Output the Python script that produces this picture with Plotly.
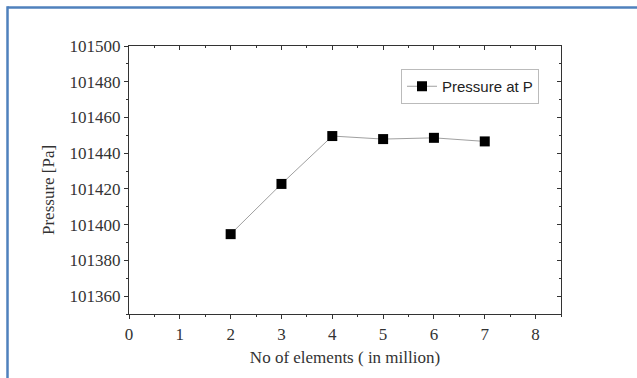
import plotly.graph_objects as go

elements = [2, 3, 4, 5, 6, 7]
pressure = [101394.7, 101422.8, 101449.6, 101447.9, 101448.6, 101446.6]
series_name = "Pressure at P"
x_ticks = [0, 1, 2, 3, 4, 5, 6, 7, 8]
y_ticks = [101360, 101380, 101400, 101420, 101440, 101460, 101480, 101500]
x_title = "No of elements ( in million)"
y_title = "Pressure [Pa]"

W, H = 637, 378
L, R, T, B = 129, 76, 46, 64
pw, ph = W - L - R, H - T - B

fig = go.Figure()
fig.add_trace(go.Scatter(
    x=elements, y=pressure, mode="lines+markers", name=series_name,
    line=dict(color="#a0a0a0", width=1),
    marker=dict(symbol="square", size=10, color="black", line=dict(width=0)),
))
# invisible trace to anchor mirror axes (top/right, inward ticks)
fig.add_trace(go.Scatter(x=[None], y=[None], xaxis="x2", yaxis="y2",
                         showlegend=False, hoverinfo="skip"))

serif = "Liberation Serif, Times New Roman, serif"
axis_common = dict(showgrid=False, zeroline=False, showline=True,
                   linecolor="#333", linewidth=1.2)

fig.update_layout(
    width=W, height=H,
    margin=dict(l=L, r=R, t=T, b=B),
    paper_bgcolor="white", plot_bgcolor="white",
    showlegend=True,
    legend=dict(x=(401 - L) / pw, y=1 - (69 - T) / ph, xanchor="left", yanchor="top",
                bgcolor="white", bordercolor="#bbbbbb", borderwidth=1,
                font=dict(family="Liberation Sans, Arial, sans-serif", size=15, color="#222"),
                itemwidth=30, tracegroupgap=0),
    xaxis=dict(range=[0, 8.5], tickmode="array", tickvals=x_ticks,
               ticks="outside", ticklen=4, tickwidth=1, tickcolor="#333",
               minor=dict(dtick=0.5, tick0=0, ticks="outside", ticklen=2, tickcolor="#333"),
               tickfont=dict(family=serif, size=17, color="#333"),
               title=dict(text=x_title, standoff=8,
                          font=dict(family=serif, size=17, color="#333")),
               **axis_common),
    yaxis=dict(range=[101350, 101500], tickmode="array", tickvals=y_ticks,
               tickformat="d",
               ticks="outside", ticklen=4, tickwidth=1, tickcolor="#333",
               minor=dict(dtick=10, tick0=101350, ticks="outside", ticklen=2, tickcolor="#333"),
               tickfont=dict(family=serif, size=17, color="#333"),
               **axis_common),
    xaxis2=dict(overlaying="x", side="top", matches="x", anchor="y2",
                tickmode="array", tickvals=x_ticks, showticklabels=False,
                ticks="inside", ticklen=4, tickcolor="#333",
                minor=dict(dtick=0.5, tick0=0, ticks="inside", ticklen=2, tickcolor="#333"),
                **axis_common),
    yaxis2=dict(overlaying="y", side="right", matches="y", anchor="x2",
                tickmode="array", tickvals=y_ticks, showticklabels=False,
                ticks="inside", ticklen=4, tickcolor="#333",
                minor=dict(dtick=10, tick0=101350, ticks="inside", ticklen=2, tickcolor="#333"),
                **axis_common),
    annotations=[
        dict(text=y_title, xref="paper", yref="paper",
             x=(48 - L) / pw, y=1 - (190 - T) / ph, textangle=-90,
             showarrow=False, xanchor="center", yanchor="middle",
             font=dict(family=serif, size=17, color="#333")),
    ],
    shapes=[
        dict(type="line", xref="paper", yref="paper",
             x0=(7.5 - L) / pw, x1=(W + 10 - L) / pw,
             y0=1 + (T - 7.5) / ph, y1=1 + (T - 7.5) / ph,
             line=dict(color="#4f81bd", width=2.5)),
        dict(type="line", xref="paper", yref="paper",
             x0=(7.5 - L) / pw, x1=(7.5 - L) / pw,
             y0=1 + (T - 6.3) / ph, y1=-(B + 10) / ph,
             line=dict(color="#4f81bd", width=2.5)),
    ],
)

fig.write_html("out.html")
